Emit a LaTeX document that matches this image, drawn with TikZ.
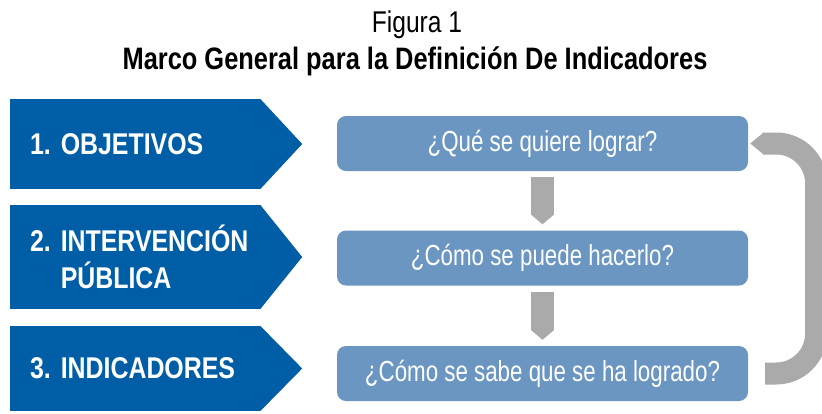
\documentclass[tikz,border=0pt]{standalone}
\usepackage{fontspec}
\setmainfont{Liberation Sans}
\newfontfamily\titulofont[FakeStretch=0.82]{Liberation Sans}
\newfontfamily\pasofont[FakeStretch=0.83]{Liberation Sans}
\newfontfamily\pregfont[FakeStretch=0.77]{Liberation Sans}
\usetikzlibrary{arrows.meta, positioning}
\definecolor{azul}{RGB}{0,94,166}
\definecolor{celeste}{RGB}{106,150,193}
\definecolor{gris}{RGB}{170,170,170}
\frenchspacing

\begin{document}
\begin{tikzpicture}[x=1pt, y=-1pt, >={Triangle[length=10pt, width=0pt 1]},
	paso/.style={fill=azul, text=white, font=\pasofont\fontsize{30}{37}\selectfont\bfseries,
		minimum width=250pt, text width=210pt, align=left, inner xsep=20pt, inner ysep=0pt},
	pregunta/.style={fill=celeste, text=white, rounded corners=9pt, font=\pregfont\fontsize{29}{32}\selectfont,
		minimum width=411pt, minimum height=55pt, inner sep=0pt},
	flechita/.style={draw=gris, line width=23pt, ->}]
	\useasboundingbox (0,0) rectangle (822,413);
	% title
	\node[font=\titulofont\fontsize{30}{34}\selectfont] (num) at (417,24.5) {Figura 1};
	\node[font=\titulofont\fontsize{31}{36}\selectfont\bfseries] (titulo) at (415,61) {Marco General para la Definición De Indicadores};
	% three chevrons
	\foreach \n/\y/\h/\T in { 1/144/90/{1. OBJETIVOS},
							  2/257/104/{\mbox{2. INTERVENCIÓN}\\\phantom{2. }PÚBLICA},
							  3/368.5/85/{3. INDICADORES}
		} {
		\node[paso, minimum height=\h pt] (paso\n) at (135,\y) {\T};
		\fill[azul] (paso\n.north east) -- ([xshift=42pt]paso\n.east) -- (paso\n.south east) -- cycle;
		}
	% three questions
	\foreach \n/\y/\T in { 1/143.5/{¿Qué se quiere lograr?},
						   2/258/{¿Cómo se puede hacerlo?},
						   3/373.5/{¿Cómo se sabe que se ha logrado?}
		} {
		\node[pregunta] (preg\n) at (542.5,\y) {\T};
		}
	% arrows
	\draw[flechita] ([yshift=-6pt]preg1.south) -- ([yshift=6pt]preg2.north);
	\draw[flechita] ([yshift=-6pt]preg2.south) -- ([yshift=6pt]preg3.north);
	\draw[gris, line width=22pt, rounded corners=40pt, -{Triangle[length=14pt, width=0pt 1]}]
		([xshift=17pt]preg3.east) -| ([xshift=68pt]preg1.east) -- ([xshift=2pt]preg1.east);
\end{tikzpicture}
\end{document}
